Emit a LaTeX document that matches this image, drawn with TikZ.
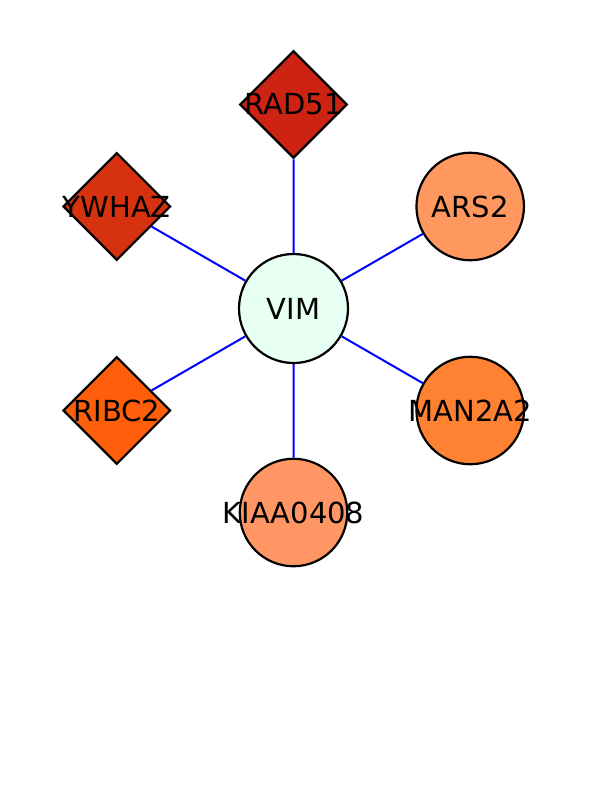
\documentclass[tikz,border=0pt]{standalone}
\usepackage{fontspec}
\setmainfont{DejaVu Sans}
\usetikzlibrary{shapes.geometric}
\definecolor{hubFill}   {RGB}{232, 255, 244}
\definecolor{radRed}    {RGB}{205,  35,  18}
\definecolor{ywhRed}    {RGB}{215,  50,  15}
\definecolor{ribOrange} {RGB}{255,  95,  10}
\definecolor{manOrange} {RGB}{255, 130,  50}
\definecolor{arsSalmon} {RGB}{255, 152,  95}
\definecolor{kiaSalmon} {RGB}{255, 150, 100}
\definecolor{edgeBlue}  {RGB}{  0,   0, 255}
\newcommand{\gname}[1]{\makebox[0pt]{#1}}

\begin{document}
\begin{tikzpicture}[x=1pt,y=-1pt,
          gcirc/.style={circle,draw=black,line width=2.2pt,inner sep=0pt,
                        minimum size=107.5pt,font=\fontsize{29}{30}\selectfont},
          gdiam/.style={diamond,draw=black,line width=2.2pt,inner sep=0pt,
                        minimum size=107.5pt,font=\fontsize{29}{30}\selectfont},
          ppi/.style={edgeBlue,line width=2pt},
        ]
        \useasboundingbox (0,0) rectangle (612,792);
        % hub
        \node[gcirc,fill=hubFill,minimum size=109pt](vim) at (293.5,308.5){\gname{VIM}};
        % partners
        \node[gdiam,fill=radRed]   (rad51) at (293.5,104.5){\gname{RAD51}};
        \node[gdiam,fill=ywhRed]   (ywhaz) at (116.8,206.5){\gname{YWHAZ}};
        \node[gdiam,fill=ribOrange](ribc2) at (116.8,410.5){\gname{RIBC2}};
        \node[gcirc,fill=arsSalmon](ars2)  at (470.2,206.5){\gname{ARS2}};
        \node[gcirc,fill=manOrange](man2a2)at (470.2,410.5){\gname{MAN2A2}};
        \node[gcirc,fill=kiaSalmon](kiaa)  at (293.5,512.5){\gname{KIAA0408}};
        \draw[ppi](vim)--(rad51)(vim)--(ywhaz)(vim)--(ribc2)
                  (vim)--(ars2)(vim)--(man2a2)(vim)--(kiaa);
      \end{tikzpicture}
\end{document}
